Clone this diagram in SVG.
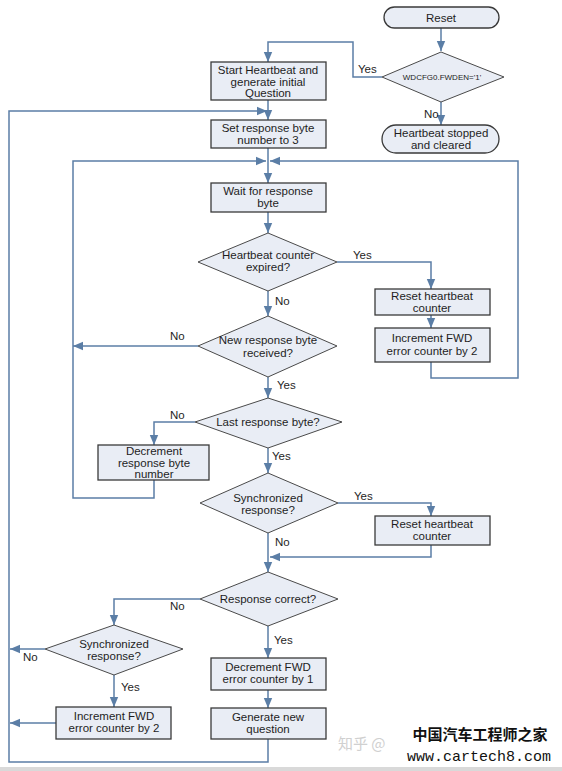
<svg xmlns="http://www.w3.org/2000/svg" width="562" height="771" viewBox="0 0 562 771">
<style>
.box{fill:#e9edf5;stroke:#3a3a3a;stroke-width:1.3}
.dia{fill:#e9edf5;stroke:#4a4a4a;stroke-width:1}
.t{font-family:"Liberation Sans",Arial,sans-serif;font-size:11.5px;fill:#1e1e1e;text-anchor:middle}
.s{font-family:"Liberation Sans",Arial,sans-serif;font-size:8px;fill:#1e1e1e;text-anchor:middle}
.lbl{font-family:"Liberation Sans",Arial,sans-serif;font-size:11.5px;fill:#1e1e1e}
.c{fill:none;stroke:#5b7ea6;stroke-width:1.5}
</style>
<defs>
<marker id="a" markerUnits="userSpaceOnUse" markerWidth="10" markerHeight="10" viewBox="0 0 10 10" refX="10" refY="5" orient="auto">
<path d="M0,0.8 L10,5 L0,9.2 Z" fill="#5b7ea6"/>
</marker>
</defs>
<rect x="0" y="0" width="562" height="771" fill="#ffffff"/>
<rect x="0" y="767" width="562" height="4" fill="#d9d9d9"/>

<g id="connectors">
<path class="c" d="M441,28 V51" marker-end="url(#a)"/>
<path class="c" d="M382,77 H353 V42 H268 V62" marker-end="url(#a)"/>
<path class="c" d="M441,102 V125" marker-end="url(#a)"/>
<path class="c" d="M268,100 V120" marker-end="url(#a)"/>
<path class="c" d="M268,739 V762 H9 V111 H267" marker-end="url(#a)"/>
<path class="c" d="M268,148 V183" marker-end="url(#a)"/>
<path class="c" d="M154,480 V498 H73 V161 H266" marker-end="url(#a)"/>
<path class="c" d="M431,362 V378 H518 V161 H270" marker-end="url(#a)"/>
<path class="c" d="M268,212 V233" marker-end="url(#a)"/>
<path class="c" d="M337,262 H431 V289" marker-end="url(#a)"/>
<path class="c" d="M431,315 V328" marker-end="url(#a)"/>
<path class="c" d="M268,291 V316" marker-end="url(#a)"/>
<path class="c" d="M198,346 H73" marker-end="url(#a)"/>
<path class="c" d="M268,377 V398" marker-end="url(#a)"/>
<path class="c" d="M195,422 H154 V445" marker-end="url(#a)"/>
<path class="c" d="M268,448 V473" marker-end="url(#a)"/>
<path class="c" d="M338,503 H431 V516" marker-end="url(#a)"/>
<path class="c" d="M268,533 V572" marker-end="url(#a)"/>
<path class="c" d="M431,545 V557 H270" marker-end="url(#a)"/>
<path class="c" d="M200,599 H114 V625" marker-end="url(#a)"/>
<path class="c" d="M268,626 V658" marker-end="url(#a)"/>
<path class="c" d="M45,649 H10" marker-end="url(#a)"/>
<path class="c" d="M114,675 V707" marker-end="url(#a)"/>
<path class="c" d="M56,723 H10" marker-end="url(#a)"/>
<path class="c" d="M268,690 V708" marker-end="url(#a)"/>
<text class="lbl" x="358" y="73">Yes</text>
<text class="lbl" x="424" y="118">No</text>
<text class="lbl" x="353" y="259">Yes</text>
<text class="lbl" x="275" y="305">No</text>
<text class="lbl" x="170" y="340">No</text>
<text class="lbl" x="277" y="389">Yes</text>
<text class="lbl" x="170" y="419">No</text>
<text class="lbl" x="272" y="460">Yes</text>
<text class="lbl" x="354" y="500">Yes</text>
<text class="lbl" x="275" y="546">No</text>
<text class="lbl" x="170" y="610">No</text>
<text class="lbl" x="274" y="644">Yes</text>
<text class="lbl" x="23" y="661">No</text>
<text class="lbl" x="121" y="691">Yes</text>
</g>

<g id="reset"><rect class="box" x="384" y="7" width="115" height="21" rx="10.5"/><text class="t" x="441" y="22">Reset</text></g>
<g id="fwden"><polygon class="dia" points="441,52 504,77 441,102 382,77"/><text class="s" x="442" y="80">WDCFG0.FWDEN='1'</text></g>
<g id="stopped"><rect class="box" x="382" y="125" width="117" height="28" rx="14"/><text class="t" x="441" y="137">Heartbeat stopped</text><text class="t" x="441" y="149">and cleared</text></g>
<g id="start"><rect class="box" x="211" y="62" width="115" height="38"/><text class="t" x="268" y="74">Start Heartbeat and</text><text class="t" x="268" y="85.5">generate initial</text><text class="t" x="268" y="97">Question</text></g>
<g id="setbyte"><rect class="box" x="211" y="120" width="115" height="28"/><text class="t" x="268" y="132">Set response byte</text><text class="t" x="268" y="144">number to 3</text></g>
<g id="wait"><rect class="box" x="211" y="183" width="115" height="29"/><text class="t" x="268" y="195">Wait for response</text><text class="t" x="268" y="207">byte</text></g>
<g id="hbexpired"><polygon class="dia" points="268,233 337,262 268,291 198,262"/><text class="t" x="268" y="259">Heartbeat counter</text><text class="t" x="268" y="271">expired?</text></g>
<g id="resethb1"><rect class="box" x="375" y="289" width="115" height="26"/><text class="t" x="432" y="300">Reset heartbeat</text><text class="t" x="432" y="312">counter</text></g>
<g id="incfwd1"><rect class="box" x="375" y="328" width="115" height="34"/><text class="t" x="432" y="342">Increment FWD</text><text class="t" x="432" y="355">error counter by 2</text></g>
<g id="newbyte"><polygon class="dia" points="268,316 337,346 268,377 198,346"/><text class="t" x="268" y="344">New response byte</text><text class="t" x="268" y="357">received?</text></g>
<g id="lastbyte"><polygon class="dia" points="268,398 342,422 268,448 195,422"/><text class="t" x="268" y="426">Last response byte?</text></g>
<g id="decbyte"><rect class="box" x="98" y="445" width="111" height="35"/><text class="t" x="154" y="455">Decrement</text><text class="t" x="154" y="466.5">response byte</text><text class="t" x="154" y="478">number</text></g>
<g id="sync1"><polygon class="dia" points="268,473 338,503 268,533 200,503"/><text class="t" x="268" y="502">Synchronized</text><text class="t" x="268" y="514">response?</text></g>
<g id="resethb2"><rect class="box" x="375" y="516" width="115" height="29"/><text class="t" x="432" y="528">Reset heartbeat</text><text class="t" x="432" y="540">counter</text></g>
<g id="correct"><polygon class="dia" points="268,572 338,599 268,626 200,599"/><text class="t" x="268" y="603">Response correct?</text></g>
<g id="sync2"><polygon class="dia" points="114,625 183,649 114,675 45,649"/><text class="t" x="114" y="648">Synchronized</text><text class="t" x="114" y="660">response?</text></g>
<g id="incfwd2"><rect class="box" x="56" y="707" width="115" height="32"/><text class="t" x="114" y="720">Increment FWD</text><text class="t" x="114" y="732">error counter by 2</text></g>
<g id="decfwd"><rect class="box" x="211" y="658" width="115" height="32"/><text class="t" x="268" y="671">Decrement FWD</text><text class="t" x="268" y="683">error counter by 1</text></g>
<g id="genq"><rect class="box" x="211" y="708" width="115" height="31"/><text class="t" x="268" y="721">Generate new</text><text class="t" x="268" y="733">question</text></g>

<g id="watermark">
<text x="338" y="749" font-family="'Noto Sans CJK SC',sans-serif" font-size="15" fill="#d0d0d0">知乎 @</text>
<text x="480" y="740" font-family="'Noto Sans CJK SC',sans-serif" font-size="15" font-weight="bold" fill="#111" text-anchor="middle">中国汽车工程师之家</text>
<text x="479" y="761" font-family="'Liberation Mono',monospace" font-size="15" fill="#111" text-anchor="middle">www.cartech8.com</text>
</g>
</svg>
